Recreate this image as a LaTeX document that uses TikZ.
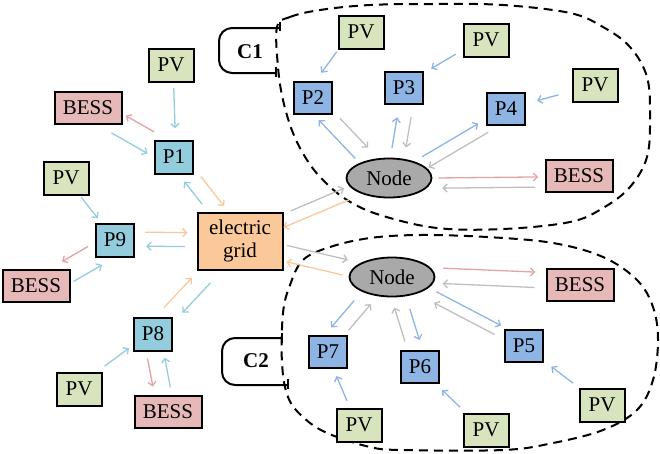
\documentclass[tikz,border=0pt]{standalone}
\usepackage{fontspec}
\setmainfont{Liberation Serif}
\usetikzlibrary{calc,arrows.meta,shapes.geometric}
\definecolor{pvgreen}{HTML}{D7E4BD}
\definecolor{bessred}{HTML}{E6B9B8}
\definecolor{plblue}{HTML}{93CDDD}
\definecolor{pdblue}{HTML}{8EB4E3}
\definecolor{gridor}{HTML}{FBC89A}
\definecolor{nodegray}{HTML}{A9A9A9}
\definecolor{arpink}{HTML}{E3A3A3}
\definecolor{argray}{HTML}{BFBFBF}
\definecolor{arorange}{HTML}{F9C99E}
\newcommand\arr[6]{\draw[#1] ($(#2)!#4!(#3)!#6pt!90:(#3)$) -- ($(#2)!#5!(#3)!#6pt!90:(#3)$);}
\tikzset{
  box/.style={draw=black, line width=2pt, inner sep=0pt, font=\fontsize{21}{23}\selectfont},
  pv/.style={box, fill=pvgreen, minimum width=45pt, minimum height=33pt},
  bess/.style={box, fill=bessred, minimum width=67pt, minimum height=32pt},
  pl/.style={box, fill=plblue, minimum width=38pt, minimum height=33pt},
  pd/.style={box, fill=pdblue, minimum width=38pt, minimum height=32pt},
  gridbox/.style={box, fill=gridor, minimum width=85pt, minimum height=57pt, align=center},
  hub/.style={draw=black, line width=1.8pt, ellipse, fill=nodegray, minimum width=85pt, minimum height=39pt, inner sep=0pt, font=\fontsize{21}{23}\selectfont},
  abase/.style={line width=1.3pt, -{Straight Barb[length=4pt,width=8pt]}},
  ab/.style={abase, draw=plblue},
  ac/.style={abase, draw=pdblue},
  apink/.style={abase, draw=arpink},
  aor/.style={abase, draw=arorange},
  agray/.style={abase, draw=argray},
  blob/.style={draw=black, line width=2pt, dash pattern=on 9pt off 6pt},
  callout/.style={draw=black, line width=2pt, rounded corners=13pt},
  tick/.style={draw=black, line width=2pt},
  clabel/.style={font=\fontsize{21}{23}\selectfont\bfseries, inner sep=0pt}
}
\begin{document}
\begin{tikzpicture}[x=1pt,y=-1pt]
\useasboundingbox (0,0) rectangle (660,453);
% clusters
\draw[blob] plot[smooth cycle, tension=0.6] coordinates {(277,27) (290,17) (320,10) (370,5) (437,4) (503,5) (570,13) (603,27) (630,47) (647,77) (650,117) (647,157) (630,187) (603,208) (570,222) (503,229) (437,228) (380,215) (347,200) (323,180) (307,160) (293,133) (283,100) (278,67)};
\draw[blob] plot[smooth cycle, tension=0.6] coordinates {(303,260) (330,247) (370,238) (420,235) (487,237) (553,243) (603,257) (637,280) (653,307) (658,340) (653,380) (637,410) (603,430) (553,443) (503,450) (403,450) (370,447) (327,433) (303,417) (288,397) (282,363) (283,313) (290,285)};
% callouts
\draw[callout] (280,28) -- (219,28) -- (219,73) -- (276,73);
\draw[tick] (280,22) -- (280,31);
\draw[tick] (276,67) -- (276,77);
\node[clabel] (c1) at (250,52) {C1};
\draw[callout] (282,338) -- (222,338) -- (222,385) -- (288,385);
\draw[tick] (282,333) -- (282,343);
\draw[tick] (288,379) -- (288,389);
\node[clabel] (c2) at (256,361) {C2};
% left nodes
\node[pv] (pv1) at (171,65) {PV};
\node[bess] (bess1) at (88,108) {BESS};
\node[pl] (p1) at (174,157) {P1};
\node[pv] (pv2) at (66,178) {PV};
\node[pl] (p9) at (115,240) {P9};
\node[gridbox] (grid) at (240,241) {electric\\grid};
\node[bess] (bess2) at (36,286) {BESS};
\node[pl] (p8) at (153,334) {P8};
\node[pv] (pv3) at (79,389) {PV};
\node[bess] (bess3) at (168,412) {BESS};
% cluster 1
\node[pv] (pva) at (361,32) {PV};
\node[pv] (pvb) at (486,40) {PV};
\node[pv] (pvc) at (595,85) {PV};
\node[pd] (p2) at (313,98) {P2};
\node[pd] (p3) at (404,88) {P3};
\node[pd] (p4) at (506,109) {P4};
\node[hub] (n1) at (389,178) {Node};
\node[bess] (bessa) at (579,176) {BESS};
% cluster 2
\node[hub] (n2) at (392,277) {Node};
\node[bess] (bessb) at (580,285) {BESS};
\node[pd] (p7) at (328,352) {P7};
\node[pd] (p6) at (420,367) {P6};
\node[pd] (p5) at (524,346) {P5};
\node[pv] (pvd) at (359,425) {PV};
\node[pv] (pve) at (486,430) {PV};
\node[pv] (pvf) at (602,405) {PV};
% left arrows
\arr{ab}{pv1}{p1}{0.25}{0.69}{2}
\arr{apink}{p1}{bess1}{0.30}{0.63}{-12}
\arr{ab}{bess1}{p1}{0.33}{0.75}{-10}
\arr{aor}{p1}{grid}{0.30}{0.65}{9}
\arr{ab}{grid}{p1}{0.49}{0.76}{7}
\arr{ab}{pv2}{p9}{0.31}{0.65}{0}
\arr{aor}{p9}{grid}{0.24}{0.58}{8}
\arr{ab}{grid}{p9}{0.44}{0.75}{6}
\arr{apink}{p9}{bess2}{0.29}{0.62}{-8}
\arr{ab}{bess2}{p9}{0.38}{0.74}{-15}
\arr{aor}{p8}{grid}{0.21}{0.53}{10}
\arr{ab}{grid}{p8}{0.40}{0.72}{7}
\arr{ab}{pv3}{p8}{0.37}{0.70}{3}
\arr{apink}{p8}{bess3}{0.29}{0.65}{-10}
\arr{ab}{bess3}{p8}{0.30}{0.68}{-7}
\arr{agray}{grid}{n1}{0.36}{0.72}{8}
\arr{aor}{n1}{grid}{0.28}{0.72}{4.5}
\arr{agray}{grid}{n2}{0.30}{0.70}{6.5}
\arr{aor}{n2}{grid}{0.31}{0.68}{9.5}
% cluster 1 arrows
\arr{ac}{pva}{p2}{0.37}{0.69}{-8}
\arr{ac}{pvb}{p3}{0.35}{0.65}{-3}
\arr{ac}{pvc}{p4}{0.41}{0.65}{0}
\arr{ac}{n1}{p2}{0.34}{0.82}{11}
\arr{agray}{p2}{n1}{0.30}{0.67}{5.6}
\arr{ac}{n1}{p3}{0.33}{0.67}{2}
\arr{agray}{p3}{n1}{0.30}{0.64}{11.7}
\arr{ac}{n1}{p4}{0.29}{0.77}{1.5}
\arr{agray}{p4}{n1}{0.20}{0.71}{11}
\arr{apink}{n1}{bessa}{0.26}{0.785}{-0.5}
\arr{agray}{bessa}{n1}{0.23}{0.72}{10.7}
% cluster 2 arrows
\arr{apink}{n2}{bessb}{0.27}{0.76}{11}
\arr{agray}{bessb}{n2}{0.24}{0.73}{4.4}
\arr{ac}{n2}{p7}{0.43}{0.79}{-13.5}
\arr{agray}{p7}{n2}{0.305}{0.653}{-1.5}
\arr{ac}{n2}{p6}{0.38}{0.725}{7.5}
\arr{agray}{p6}{n2}{0.305}{0.683}{6.8}
\arr{ac}{n2}{p5}{0.31}{0.80}{7.5}
\arr{agray}{p5}{n2}{0.21}{0.67}{3.4}
\arr{ac}{pvd}{p7}{0.34}{0.68}{1.6}
\arr{ac}{pve}{p6}{0.38}{0.65}{1.4}
\arr{ac}{pvf}{p5}{0.37}{0.65}{0}
\end{tikzpicture}
\end{document}
